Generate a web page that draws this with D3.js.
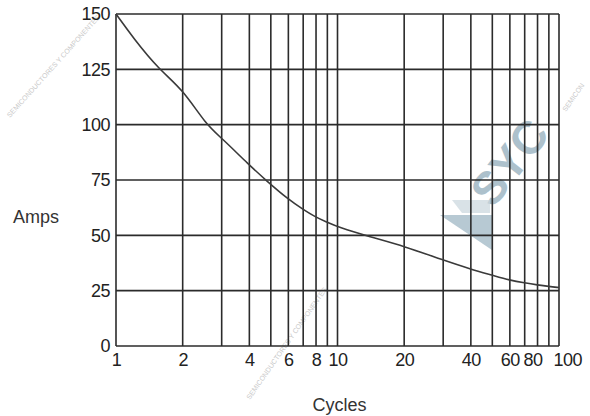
<!DOCTYPE html>
<html>
<head>
<meta charset="utf-8">
<script src="https://cdn.jsdelivr.net/npm/d3@7"></script>
<style>
  body { margin: 0; background: #fff; }
  svg { display: block; font-family: "Liberation Sans", Arial, sans-serif; }
</style>
</head>
<body>
<svg id="chart" width="590" height="416"></svg>
<script>
// surge current rating curve
var cycles = [1, 1.2, 1.56, 2, 2.55, 3, 4, 4.74, 6, 7, 8, 9, 10, 14, 20, 30, 40, 50, 60, 70, 80, 90, 100];
var amps = [150, 139, 125, 116, 100, 94, 81.7, 75, 66.2, 61.7, 58.1, 55.9, 53.8, 49.3, 45.1, 38.8, 34.7, 32, 29.7, 28.5, 27.6, 26.9, 26.4];

var xGrid = [1, 2, 3, 4, 5, 6, 7, 8, 9, 10, 20, 30, 40, 50, 60, 70, 80, 90, 100];
var xLabels = [1, 2, 4, 6, 8, 10, 20, 40, 60, 80, 100];
var yTicks = [0, 25, 50, 75, 100, 125, 150];

var margin = {top: 14, right: 31, bottom: 70, left: 116};
var width = 590 - margin.left - margin.right;
var height = 416 - margin.top - margin.bottom;

var svg = d3.select("#chart");

// watermark
var wm = svg.append("g").attr("class", "watermark");
wm.append("text")
  .attr("transform", "translate(522,172) rotate(-52)")
  .attr("text-anchor", "middle")
  .attr("font-size", "46px")
  .attr("font-weight", "bold")
  .attr("fill", "#9fb7c4")
  .attr("opacity", 0.85)
  .text("SYC");
wm.append("path")
  .attr("d", "M440,215 L492,215 L492,250 Z")
  .attr("fill", "#9fb7c4")
  .attr("opacity", 0.75);
wm.append("path")
  .attr("d", "M452,200 L490,200 L490,213 L462,213 Z")
  .attr("fill", "#c9d6dd")
  .attr("opacity", 0.7);
[[10, 118, -48, "SEMICONDUCTORES Y COMPONENTES"],
 [250, 400, -55, "SEMICONDUCTORES Y COMPONENTES"],
 [566, 112, -55, "SEMICON"]].forEach(function(w) {
  wm.append("text")
    .attr("transform", "translate(" + w[0] + "," + w[1] + ") rotate(" + w[2] + ")")
    .attr("font-size", "7px")
    .attr("fill", "#c8c8c8")
    .text(w[3]);
});

var g = svg.append("g")
  .attr("transform", "translate(" + margin.left + "," + margin.top + ")");

var x = d3.scaleLog().domain([1, 100]).range([0, width]);
var y = d3.scaleLinear().domain([0, 150]).range([height, 0]);

// grid
g.append("g")
  .selectAll("line")
  .data(xGrid)
  .enter().append("line")
  .attr("x1", function(d) { return x(d); })
  .attr("x2", function(d) { return x(d); })
  .attr("y1", 0)
  .attr("y2", height)
  .attr("stroke", "#2b2b2b")
  .attr("stroke-width", 1.6);

g.append("g")
  .selectAll("line")
  .data(yTicks)
  .enter().append("line")
  .attr("x1", 0)
  .attr("x2", width)
  .attr("y1", function(d) { return y(d); })
  .attr("y2", function(d) { return y(d); })
  .attr("stroke", "#2b2b2b")
  .attr("stroke-width", 1.6);

// axes labels
var yAxis = g.append("g")
  .call(d3.axisLeft(y).tickValues(yTicks).tickSize(0).tickPadding(6));
yAxis.select(".domain").remove();
yAxis.selectAll("text")
  .attr("font-size", "18px")
  .attr("font-family", "Liberation Sans, Arial, sans-serif")
  .attr("fill", "#222")
  .attr("letter-spacing", "-0.5px");

var xAxis = g.append("g")
  .attr("transform", "translate(0," + height + ")")
  .call(d3.axisBottom(x).tickValues(xLabels).tickFormat(d3.format("d")).tickSize(0).tickPadding(7));
xAxis.select(".domain").remove();
xAxis.selectAll("text")
  .attr("font-size", "18px")
  .attr("font-family", "Liberation Sans, Arial, sans-serif")
  .attr("fill", "#222")
  .attr("letter-spacing", "-0.5px");
// last label sits to the right of its line, like the original
xAxis.selectAll(".tick")
  .filter(function(d) { return d === 100; })
  .select("text")
  .attr("text-anchor", "start")
  .attr("dx", "-6");
xAxis.selectAll(".tick")
  .filter(function(d) { return d === 80; })
  .select("text")
  .attr("dx", "-5");

// curve
var line = d3.line()
  .x(function(d, i) { return x(cycles[i]); })
  .y(function(d) { return y(d); })
  .curve(d3.curveBasis);

g.append("path")
  .datum(amps)
  .attr("d", line)
  .attr("fill", "none")
  .attr("stroke", "#3a3a3a")
  .attr("stroke-width", 1.6);

// titles
svg.append("text")
  .attr("x", 13)
  .attr("y", 223)
  .attr("font-size", "18px")
  .attr("fill", "#333")
  .text("Amps");

svg.append("text")
  .attr("x", margin.left + width / 2 + 2)
  .attr("y", 411)
  .attr("text-anchor", "middle")
  .attr("font-size", "18px")
  .attr("fill", "#333")
  .text("Cycles");
</script>
</body>
</html>
